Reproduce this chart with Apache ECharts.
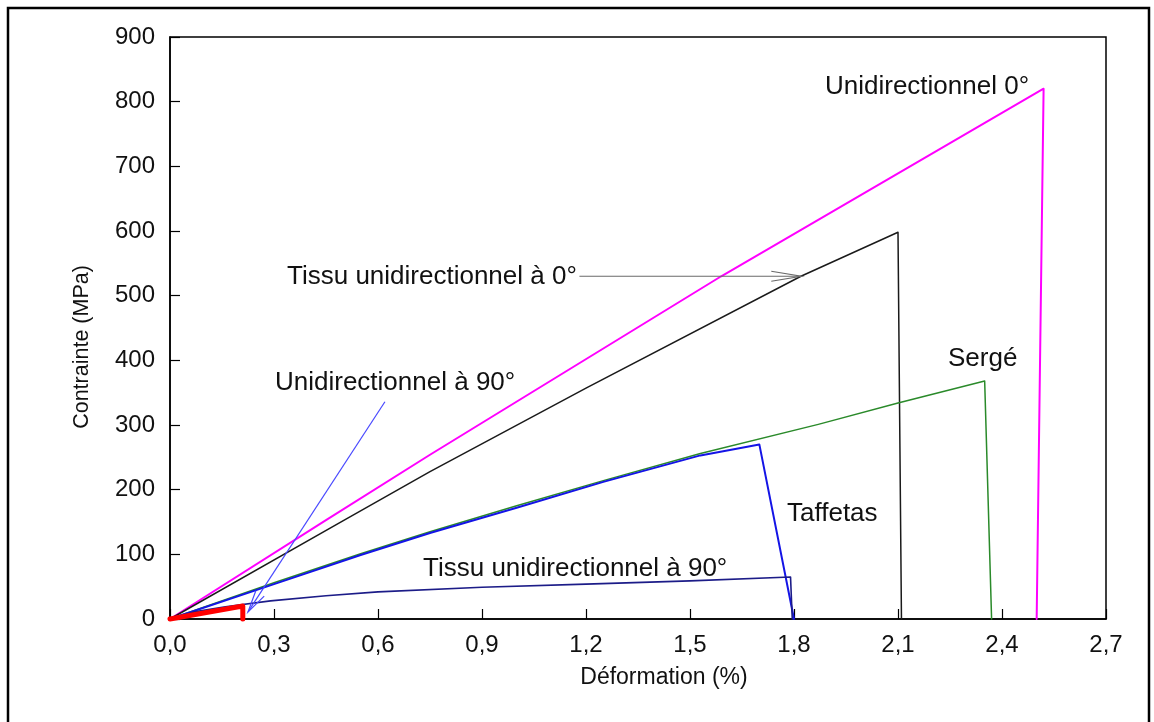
<!DOCTYPE html>
<html>
<head>
<meta charset="utf-8">
<script src="https://cdn.jsdelivr.net/npm/echarts@6/dist/echarts.min.js"></script>
<style>
  html, body { margin: 0; padding: 0; background: #fff; }
  #chart { width: 1154px; height: 722px; }
</style>
</head>
<body>
<div id="chart"></div>
<script>
// Stress–strain curves: [déformation (%), contrainte (MPa)]
const uni0 = [[0, 0], [0.45, 153], [0.75, 254], [1.59, 530], [2.52, 820], [2.50, 0]];
const tissuUni0 = [[0, 0], [0.5, 152], [0.75, 228], [1.2, 357], [1.82, 530], [2.10, 598], [2.11, 0]];
const serge = [[0, 0], [0.3, 56], [0.55, 101], [0.75, 135], [1.0, 175], [1.25, 214], [1.53, 256], [1.87, 301], [2.1, 334], [2.35, 368], [2.37, 0]];
const taffetas = [[0, 0], [0.3, 54], [0.55, 99], [0.75, 133], [1.0, 172], [1.25, 212], [1.53, 253], [1.70, 270], [1.80, 0]];
const tissuUni90 = [[0, 0], [0.07, 11], [0.16, 19], [0.29, 28], [0.45, 36], [0.6, 42], [0.9, 49], [1.2, 54], [1.5, 59], [1.79, 65], [1.795, 0]];
const uni90 = [[0, 0], [0.21, 20], [0.21, 0]];

// Axis tick labels (French decimal comma)
const xTickLabels = ['0,0', '0,3', '0,6', '0,9', '1,2', '1,5', '1,8', '2,1', '2,4', '2,7'];
const yTickLabels = ['0', '100', '200', '300', '400', '500', '600', '700', '800', '900'];

// Leader arrows from curve names to curves: [from strain, from stress, to strain, to stress]
const arrowTissu0 = [1.181, 530, 1.821, 530];
const arrowUni90 = [0.62, 336, 0.225, 11];

const FONT = '"Liberation Sans", Arial, Helvetica, sans-serif';

const arrowLooks = [
  { color: '#6a6a6a', head: 30, half: 5 },
  { color: '#4848ff', head: 22, half: 5 }
];

function lineSeries(name, data, color, width, z) {
  return {
    name: name,
    type: 'line',
    data: data,
    showSymbol: false,
    symbol: 'none',
    clip: false,
    z: z,
    lineStyle: { color: color, width: width, cap: 'round', join: 'round' }
  };
}

function textEl(str, left, cy, size) {
  return {
    type: 'text',
    left: left,
    top: cy - size * 0.45,
    style: { text: str, font: size + 'px ' + FONT, fill: '#111' },
    z: 100
  };
}

const chart = echarts.init(document.getElementById('chart'), null, { renderer: 'canvas' });

chart.setOption({
  animation: false,
  backgroundColor: '#fff',
  grid: {
    left: 170, top: 37, right: 48, bottom: 103,
    show: true, borderColor: '#000', borderWidth: 1.5, backgroundColor: 'transparent'
  },
  xAxis: {
    type: 'value',
    min: 0, max: 2.7, interval: 0.3,
    splitLine: { show: false },
    axisLine: { show: true, onZero: false, lineStyle: { color: '#000', width: 1.5 } },
    axisTick: { show: true, inside: true, length: 10, lineStyle: { color: '#000', width: 1.2 } },
    axisLabel: {
      margin: 14, color: '#111', fontSize: 24, fontFamily: FONT,
      formatter: v => xTickLabels[Math.round(v / 0.3)]
    }
  },
  yAxis: {
    type: 'value',
    min: 0, max: 900, interval: 100,
    splitLine: { show: false },
    axisLine: { show: true, lineStyle: { color: '#000', width: 1.5 } },
    axisTick: { show: true, inside: true, length: 10, lineStyle: { color: '#000', width: 1.2 } },
    axisLabel: {
      margin: 15, color: '#111', fontSize: 24, fontFamily: FONT,
      formatter: v => yTickLabels[Math.round(v / 100)]
    }
  },
  series: [
    lineSeries('Unidirectionnel 0°', uni0, '#ff00ff', 2, 2),
    lineSeries('Tissu unidirectionnel à 0°', tissuUni0, '#1a1a1a', 1.5, 3),
    lineSeries('Sergé', serge, '#2a8a2a', 1.5, 4),
    lineSeries('Taffetas', taffetas, '#1414e6', 2, 5),
    lineSeries('Tissu unidirectionnel à 90°', tissuUni90, '#1c1c88', 1.6, 6),
    lineSeries('Unidirectionnel à 90°', uni90, '#ff0000', 5, 8),
    {
      type: 'custom',
      z: 7,
      clip: false,
      encode: { x: [0, 2], y: [1, 3] },
      data: [arrowTissu0, arrowUni90],
      renderItem: function (params, api) {
        const p1 = api.coord([api.value(0), api.value(1)]);
        const p2 = api.coord([api.value(2), api.value(3)]);
        const look = arrowLooks[params.dataIndex];
        const ang = Math.atan2(p2[1] - p1[1], p2[0] - p1[0]);
        const c = Math.cos(ang), s = Math.sin(ang);
        const bx = p2[0] - look.head * c, by = p2[1] - look.head * s;
        const h1 = [bx + look.half * s, by - look.half * c];
        const h2 = [bx - look.half * s, by + look.half * c];
        return {
          type: 'group',
          children: [
            { type: 'line', shape: { x1: p1[0], y1: p1[1], x2: p2[0], y2: p2[1] },
              style: { stroke: look.color, lineWidth: 1.2 } },
            { type: 'polyline', shape: { points: [h1, p2, h2] },
              style: { stroke: look.color, fill: null, lineWidth: 1.2 } }
          ]
        };
      }
    }
  ],
  graphic: [
    // outer frame
    { type: 'rect', shape: { x: 8, y: 8, width: 1141, height: 740 },
      style: { fill: null, stroke: '#000', lineWidth: 2.5 }, z: 0 },
    // curve names
    textEl('Unidirectionnel 0°', 825, 86, 26),
    textEl('Tissu unidirectionnel à 0°', 287, 276, 26),
    textEl('Sergé', 948, 358, 26),
    textEl('Taffetas', 787, 513, 26),
    textEl('Tissu unidirectionnel à 90°', 423, 568, 26),
    textEl('Unidirectionnel à 90°', 275, 382, 26),
    // axis names
    {
      type: 'text', x: 82, y: 347, rotation: Math.PI / 2,
      style: { text: 'Contrainte (MPa)', font: '21.5px ' + FONT, fill: '#111',
               textAlign: 'center', textVerticalAlign: 'middle' },
      z: 100
    },
    {
      type: 'text', x: 664, y: 678,
      style: { text: 'Déformation (%)', font: '23px ' + FONT, fill: '#111',
               textAlign: 'center', textVerticalAlign: 'middle' },
      z: 100
    }
  ]
});
</script>
</body>
</html>
